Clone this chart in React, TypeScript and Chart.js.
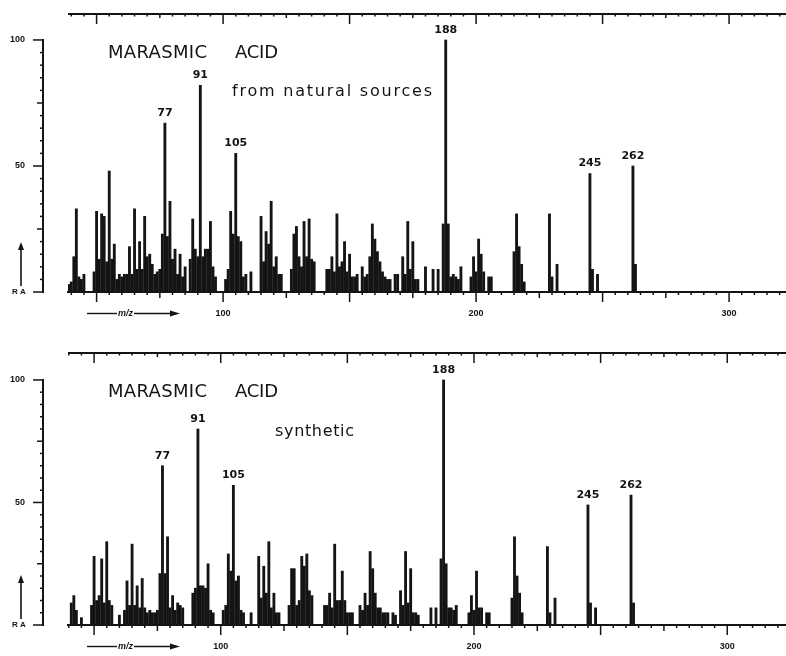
import React, { useEffect, useRef } from 'react';
import { Chart, registerables } from 'chart.js';

Chart.register(...registerables);

// ---------------- data ----------------
const naturalMz = [
  39, 40, 41, 42, 43, 44, 45,
  49, 50, 51, 52, 53, 54, 55, 56, 57,
  58, 59, 60, 61, 62, 63, 64, 65, 66, 67, 68, 69, 70, 71, 72, 73, 74, 75, 76, 77, 78, 79, 80, 81, 82, 83, 84, 85,
  87, 88, 89, 90, 91, 92, 93, 94, 95, 96, 97,
  101, 102, 103, 104, 105, 106, 107, 108, 109,
  111,
  115, 116, 117, 118, 119, 120, 121, 122, 123,
  127, 128, 129, 130, 131, 132, 133, 134, 135, 136,
  141, 142, 143, 144, 145, 146, 147, 148, 149, 150, 151, 152, 153,
  155, 156, 157, 158, 159, 160, 161, 162, 163, 164, 165, 166,
  168, 169,
  171, 172, 173, 174, 175, 176, 177,
  180, 183, 185,
  187, 188, 189, 190, 191, 192, 193, 194,
  198, 199, 200, 201, 202, 203, 205, 206,
  215, 216, 217, 218, 219,
  229, 230, 232,
  245, 246, 248,
  262, 263,
];
const naturalAbundance = [
  3, 4, 14, 33, 6, 5, 7,
  8, 32, 13, 31, 30, 12, 48, 13, 19,
  5, 7, 6, 7, 7, 18, 7, 33, 9, 20, 9, 30, 14, 15, 11, 7, 8, 9, 23, 67, 22, 36, 13, 17, 7, 15, 6, 10,
  13, 29, 17, 14, 82, 14, 17, 17, 28, 10, 6,
  5, 9, 32, 23, 55, 22, 20, 6, 7,
  8,
  30, 12, 24, 19, 36, 10, 14, 7, 7,
  9, 23, 26, 14, 10, 28, 14, 29, 13, 12,
  9, 9, 14, 8, 31, 10, 12, 20, 8, 15, 6, 6, 7,
  10, 6, 7, 14, 27, 21, 16, 12, 8, 6, 5, 5,
  7, 7,
  14, 7, 28, 9, 20, 5, 5,
  10, 9, 9,
  27, 100, 27, 6, 7, 6, 5, 10,
  6, 14, 8, 21, 15, 8, 6, 6,
  16, 31, 18, 11, 4,
  31, 6, 11,
  47, 9, 7,
  50, 11,
];

const syntheticMz = [
  41, 42, 43, 45,
  49, 50, 51, 52, 53, 54, 55, 56, 57,
  60,
  62, 63, 64, 65, 66, 67, 68, 69, 70, 71, 72, 73, 74, 75, 76, 77, 78, 79, 80, 81, 82, 83, 84, 85,
  89, 90, 91, 92, 93, 94, 95, 96, 97,
  101, 102, 103, 104, 105, 106, 107, 108, 109,
  112,
  115, 116, 117, 118, 119, 120, 121, 122, 123,
  127, 128, 129, 130, 131, 132, 133, 134, 135, 136,
  141, 142, 143, 144, 145, 146, 147, 148, 149, 150, 151, 152,
  155, 156, 157, 158, 159, 160, 161, 162, 163, 164, 165, 166,
  168, 169,
  171, 172, 173, 174, 175, 176, 177, 178,
  183, 185,
  187, 188, 189, 190, 191, 192, 193,
  198, 199, 200, 201, 202, 203, 205, 206,
  215, 216, 217, 218, 219,
  229, 230, 232,
  245, 246, 248,
  262, 263,
];
const syntheticAbundance = [
  9, 12, 6, 3,
  8, 28, 10, 12, 27, 9, 34, 10, 8,
  4,
  6, 18, 8, 33, 8, 16, 7, 19, 7, 5, 6, 5, 5, 6, 21, 65, 21, 36, 7, 12, 6, 9, 8, 7,
  13, 15, 80, 16, 16, 15, 25, 6, 5,
  6, 8, 29, 22, 57, 18, 20, 6, 5,
  5,
  28, 11, 24, 13, 34, 7, 13, 5, 5,
  8, 23, 23, 8, 10, 28, 24, 29, 14, 12,
  8, 8, 13, 7, 33, 10, 10, 22, 10, 5, 5, 5,
  8, 6, 13, 8, 30, 23, 13, 7, 7, 5, 5, 5,
  5, 4,
  14, 8, 30, 9, 23, 5, 5, 4,
  7, 7,
  27, 100, 25, 7, 7, 6, 8,
  5, 12, 6, 22, 7, 7, 5, 5,
  11, 36, 20, 13, 5,
  32, 5, 11,
  49, 9, 7,
  53, 9,
];

const labelledPeaks = [77, 91, 105, 188, 245, 262];
const xTickLabels = [100, 200, 300];
const yTickLabels = [50, 100];
const compoundWords = ['MARASMIC', 'ACID'];
const subtitles = ['from natural sources', 'synthetic'];
const xAxisTitle = 'm/z';
const yAxisTitle = 'R A';

// ---------------- styling / layout ----------------
const INK = '#141414';
const W = 786;

type PanelCfg = {
  mz: number[];
  ab: number[];
  subtitle: string;
  top: number;
  height: number;
  padTop: number;
  xAxisH: number;
  xMin: number;
  xMax: number;
  yMax: number;
  nameBase: number;
  subX: number;
  subW: number;
  subBase: number;
};

const panels: PanelCfg[] = [
  {
    mz: naturalMz, ab: naturalAbundance, subtitle: subtitles[0],
    top: 0, height: 330, padTop: 14, xAxisH: 38,
    xMin: 38.7, xMax: 322.5, yMax: 110.3,
    nameBase: 58, subX: 232, subW: 200, subBase: 96,
  },
  {
    mz: syntheticMz, ab: syntheticAbundance, subtitle: subtitles[1],
    top: 330, height: 326, padTop: 23, xAxisH: 31,
    xMin: 39.7, xMax: 323.2, yMax: 111,
    nameBase: 67, subX: 275, subW: 79, subBase: 106,
  },
];

function fitText(ctx: CanvasRenderingContext2D, text: string, x: number, y: number, w: number) {
  (ctx as any).letterSpacing = '0px';
  const m = ctx.measureText(text).width;
  const n = text.length;
  const ls = n > 1 ? (w - m) / (n - 1) : 0;
  (ctx as any).letterSpacing = `${ls}px`;
  ctx.textAlign = 'left';
  ctx.fillText(text, x, y);
  (ctx as any).letterSpacing = '0px';
}

function line(ctx: CanvasRenderingContext2D, x1: number, y1: number, x2: number, y2: number) {
  ctx.beginPath();
  ctx.moveTo(x1, y1);
  ctx.lineTo(x2, y2);
  ctx.stroke();
}

function makeDecor(cfg: PanelCfg) {
  return {
    id: 'decor',
    afterDatasetsDraw(chart: any) {
      const { ctx, chartArea: ca, scales } = chart;
      const x = scales.x;
      const y = scales.y;
      ctx.save();
      ctx.strokeStyle = INK;
      ctx.fillStyle = INK;

      // top frame line
      ctx.lineWidth = 2;
      line(ctx, ca.left, ca.top, ca.right, ca.top);

      // x ticks (bottom axis and top frame)
      ctx.lineWidth = 1.5;
      for (let v = Math.ceil(cfg.xMin / 5) * 5; v <= cfg.xMax; v += 5) {
        const px = x.getPixelForValue(v);
        const lb = v % 50 === 0 ? 10 : v % 25 === 0 ? 6 : 3;
        const lt = v % 50 === 0 ? 10 : v % 25 === 0 ? 4 : 2.5;
        line(ctx, px, ca.bottom, px, ca.bottom + lb);
        line(ctx, px, ca.top, px, ca.top + lt);
      }

      // detached y axis
      const ax = ca.left - 25;
      ctx.lineWidth = 2;
      line(ctx, ax, y.getPixelForValue(0) + 1, ax, y.getPixelForValue(100) - 1);
      ctx.lineWidth = 1.5;
      for (let v = 0; v <= 100; v += 5) {
        const py = y.getPixelForValue(v);
        const len = v % 50 === 0 ? 10 : v % 25 === 0 ? 6 : 3;
        line(ctx, ax - len, py, ax, py);
      }

      // y axis title with upward arrow
      ctx.font = 'bold 8px "Liberation Sans"';
      ctx.textAlign = 'left';
      ctx.textBaseline = 'alphabetic';
      ctx.fillText(yAxisTitle, ax - 31, ca.bottom + 2);
      const arX = ax - 22;
      ctx.lineWidth = 1.6;
      line(ctx, arX, ca.bottom - 6, arX, ca.bottom - 46);
      ctx.beginPath();
      ctx.moveTo(arX, ca.bottom - 50);
      ctx.lineTo(arX - 3, ca.bottom - 42);
      ctx.lineTo(arX + 3, ca.bottom - 42);
      ctx.closePath();
      ctx.fill();

      // m/z arrow under x axis
      const ay = ca.bottom + 21.5;
      ctx.lineWidth = 1.4;
      line(ctx, ca.left + 19, ay, ca.left + 49, ay);
      line(ctx, ca.left + 66, ay, ca.left + 104, ay);
      ctx.beginPath();
      ctx.moveTo(ca.left + 112, ay);
      ctx.lineTo(ca.left + 102, ay - 3);
      ctx.lineTo(ca.left + 102, ay + 3);
      ctx.closePath();
      ctx.fill();
      ctx.font = 'italic bold 9px "Liberation Sans"';
      ctx.textAlign = 'center';
      ctx.textBaseline = 'middle';
      ctx.fillText(xAxisTitle, ca.left + 57.5, ay);

      // peak labels
      ctx.font = 'bold 11px "DejaVu Sans"';
      ctx.textAlign = 'center';
      ctx.textBaseline = 'middle';
      for (const p of labelledPeaks) {
        const i = cfg.mz.indexOf(p);
        if (i < 0) continue;
        const px = x.getPixelForValue(p);
        const py = y.getPixelForValue(cfg.ab[i]);
        ctx.fillText(String(p), px, py - 10);
      }

      // titles
      ctx.textBaseline = 'alphabetic';
      ctx.font = '18px "DejaVu Sans"';
      fitText(ctx, compoundWords[0], 108, cfg.nameBase, 99);
      fitText(ctx, compoundWords[1], 235, cfg.nameBase, 43);
      ctx.font = '16px "DejaVu Sans"';
      fitText(ctx, cfg.subtitle, cfg.subX, cfg.subBase, cfg.subW);

      ctx.restore();
    },
  };
}

function Panel({ cfg }: { cfg: PanelCfg }) {
  const ref = useRef<HTMLCanvasElement>(null);
  useEffect(() => {
    const canvas = ref.current!;
    const chart = new Chart(canvas, {
      type: 'bar',
      data: {
        datasets: [
          {
            data: cfg.mz.map((m, i) => ({ x: m, y: cfg.ab[i] })),
            backgroundColor: INK,
            borderWidth: 0,
            barThickness: 2.2,
            grouped: false,
          } as any,
        ],
      },
      options: {
        animation: false,
        responsive: false,
        maintainAspectRatio: false,
        devicePixelRatio: 1,
        layout: { padding: { top: cfg.padTop, left: 0, right: 0, bottom: 0 } },
        plugins: { legend: { display: false }, tooltip: { enabled: false }, title: { display: false } },
        scales: {
          x: {
            type: 'linear',
            offset: false,
            min: cfg.xMin,
            max: cfg.xMax,
            grid: { display: false, drawTicks: false, offset: false },
            border: { display: true, color: INK, width: 2 },
            ticks: {
              stepSize: 100,
              autoSkip: false,
              maxRotation: 0,
              padding: 16,
              color: INK,
              font: { family: 'Liberation Sans', size: 9, weight: 'bold' },
              callback: (v: any) => (xTickLabels.includes(Number(v)) ? String(v) : ''),
            },
            afterFit: (s: any) => {
              s.height = cfg.xAxisH;
              s.paddingLeft = 0;
              s.paddingRight = 0;
            },
          },
          y: {
            type: 'linear',
            min: 0,
            max: cfg.yMax,
            grid: { display: false, drawTicks: false },
            border: { display: false },
            ticks: {
              stepSize: 50,
              autoSkip: false,
              padding: 43,
              color: INK,
              font: { family: 'Liberation Sans', size: 9, weight: 'bold' },
              callback: (v: any) => (yTickLabels.includes(Number(v)) ? String(v) : ''),
            },
            afterFit: (s: any) => {
              s.width = 68;
              s.paddingTop = 0;
              s.paddingBottom = 0;
            },
          },
        },
      } as any,
      plugins: [makeDecor(cfg)],
    });
    return () => chart.destroy();
  }, []);
  return (
    <canvas
      ref={ref}
      width={W}
      height={cfg.height}
      style={{ position: 'absolute', left: 0, top: cfg.top, width: W, height: cfg.height, display: 'block' }}
    />
  );
}

export default function App() {
  return (
    <div style={{ position: 'fixed', left: 0, top: 0, width: W, height: 656, background: '#ffffff', overflow: 'hidden' }}>
      {panels.map((p, i) => (
        <Panel key={i} cfg={p} />
      ))}
    </div>
  );
}
